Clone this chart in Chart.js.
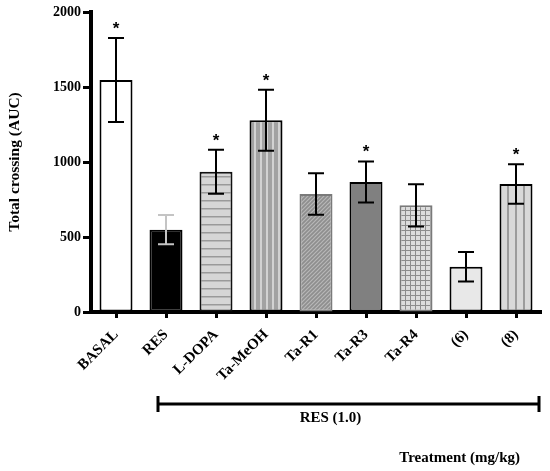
<!DOCTYPE html>
<html>
<head>
<meta charset="utf-8">
<script src="https://cdn.jsdelivr.net/npm/chart.js@4"></script>
<style>
html,body{margin:0;padding:0;background:#fff;}
#wrap{width:550px;height:471px;position:relative;}
</style>
</head>
<body>
<div id="wrap"><canvas id="c" width="550" height="471"></canvas></div>
<script>
// ---- data ----
const categories = ['BASAL', 'RES', 'L-DOPA', 'Ta-MeOH', 'Ta-R1', 'Ta-R3', 'Ta-R4', '(6)', '(8)'];
const means = [1547, 549, 935, 1278, 787, 867, 711, 302, 853];
const sems = [280, 97, 147, 203, 138, 137, 141, 98, 132];
const significant = [true, false, true, true, false, true, false, false, true];
const yTicks = [0, 500, 1000, 1500, 2000];
const groupLabel = 'RES (1.0)';
const groupStart = 1; // first category under the bracket
const xTitle = 'Treatment (mg/kg)';
const yTitle = 'Total crossing (AUC)';

// ---- patterns ----
function makePattern(w, h, bg, drawFn) {
  const c = document.createElement('canvas');
  c.width = w; c.height = h;
  const g = c.getContext('2d');
  g.fillStyle = bg; g.fillRect(0, 0, w, h);
  drawFn(g);
  return g.createPattern(c, 'repeat');
}
const pHoriz = makePattern(8, 8, '#d6d6d6', g => { g.fillStyle = '#9a9a9a'; g.fillRect(0, 0, 8, 1.5); });
const pVertMid = makePattern(6, 6, '#a2a2a2', g => { g.fillStyle = '#d2d2d2'; g.fillRect(2, 0, 2, 6); });
const pDiag = makePattern(4, 4, '#8e8e8e', g => {
  g.strokeStyle = '#b8b8b8'; g.lineWidth = 1.2;
  g.beginPath(); g.moveTo(0, 4); g.lineTo(4, 0); g.moveTo(-1, 1); g.lineTo(1, -1); g.moveTo(3, 5); g.lineTo(5, 3); g.stroke();
});
const pGrid = makePattern(5, 5, '#dcdcdc', g => { g.fillStyle = '#8c8c8c'; g.fillRect(0, 0, 5, 1); g.fillRect(0, 0, 1, 5); });
const pVertLight = makePattern(8, 8, '#d9d9d9', g => { g.fillStyle = '#9c9c9c'; g.fillRect(3, 0, 2, 8); });

const fills = ['#ffffff', '#000000', pHoriz, pVertMid, pDiag, '#808080', pGrid, '#e8e8e8', pVertLight];
const borders = ['#000', '#000', '#111', '#000', '#7a7a7a', '#000', '#7a7a7a', '#000', '#000'];
const errColors = ['#000', '#c4c4c4', '#000', '#000', '#000', '#000', '#000', '#000', '#000'];

const serif = "'Liberation Serif', 'Times New Roman', serif";

const decorations = {
  id: 'decorations',
  afterDatasetsDraw(chart) {
    const { ctx, scales: { x, y }, chartArea } = chart;
    ctx.save();
    // error bars
    for (let i = 0; i < means.length; i++) {
      const px = x.getPixelForValue(i);
      const yt = y.getPixelForValue(means[i] + sems[i]);
      const yb = y.getPixelForValue(means[i] - sems[i]);
      ctx.strokeStyle = errColors[i];
      ctx.lineWidth = 2;
      ctx.beginPath();
      ctx.moveTo(px, yt); ctx.lineTo(px, yb);
      ctx.moveTo(px - 8, yt); ctx.lineTo(px + 8, yt);
      ctx.moveTo(px - 8, yb); ctx.lineTo(px + 8, yb);
      ctx.stroke();
      if (significant[i]) {
        ctx.fillStyle = '#000';
        ctx.font = "bold 17px 'Liberation Sans', Arial, sans-serif";
        ctx.textAlign = 'center';
        ctx.textBaseline = 'alphabetic';
        ctx.fillText('*', px, yt - 4);
      }
    }
    // bracket
    const bl = x.getPixelForValue(groupStart) - 8;
    const br = chartArea.right - 2;
    const by = chartArea.bottom + 92;
    ctx.strokeStyle = '#000';
    ctx.lineWidth = 3;
    ctx.beginPath();
    ctx.moveTo(bl, by); ctx.lineTo(br, by);
    ctx.moveTo(bl, by - 8); ctx.lineTo(bl, by + 8);
    ctx.moveTo(br, by - 8); ctx.lineTo(br, by + 8);
    ctx.stroke();
    ctx.fillStyle = '#000';
    ctx.font = 'bold 15px ' + serif;
    ctx.textAlign = 'center';
    ctx.textBaseline = 'middle';
    ctx.fillText(groupLabel, (bl + br) / 2 - 18, by + 14);
    ctx.textAlign = 'right';
    ctx.fillText(xTitle, chartArea.right - 21, chartArea.bottom + 146);
    ctx.restore();
  }
};

new Chart(document.getElementById('c'), {
  type: 'bar',
  data: {
    labels: categories,
    datasets: [{
      data: means,
      backgroundColor: fills,
      borderColor: borders,
      borderWidth: 2,
      borderSkipped: false,
      categoryPercentage: 1,
      barPercentage: 0.66
    }]
  },
  options: {
    responsive: false,
    animation: false,
    devicePixelRatio: 1,
    layout: { padding: { top: 12, right: 9, bottom: 0, left: 0 } },
    plugins: { legend: { display: false }, tooltip: { enabled: false } },
    scales: {
      x: {
        type: 'category',
        offset: true,
        grid: { display: true, offset: false, drawOnChartArea: false, drawTicks: true, tickLength: 6, tickWidth: 3, tickColor: '#000' },
        border: { display: true, color: '#000', width: 4 },
        ticks: {
          autoSkip: false, minRotation: 45, maxRotation: 45, padding: 8,
          color: '#000', font: { family: serif, size: 15, weight: 'bold' }
        },
        afterFit(s) { s.height = 471 - 312; }
      },
      y: {
        min: 0, max: 2000,
        afterBuildTicks(s) { s.ticks = yTicks.map(v => ({ value: v })); },
        grid: { display: true, drawOnChartArea: false, drawTicks: true, tickLength: 8, tickWidth: 3, tickColor: '#000' },
        border: { display: true, color: '#000', width: 4 },
        ticks: { padding: 2, color: '#000', font: { family: serif, size: 14, weight: 'bold' }, callback: v => String(v) },
        title: { display: true, text: yTitle, color: '#000', padding: { top: 6, bottom: 0 }, font: { family: serif, size: 15.5, weight: 'bold' } },
        afterFit(s) { s.width = 91; }
      }
    }
  },
  plugins: [decorations]
});
</script>
</body>
</html>
